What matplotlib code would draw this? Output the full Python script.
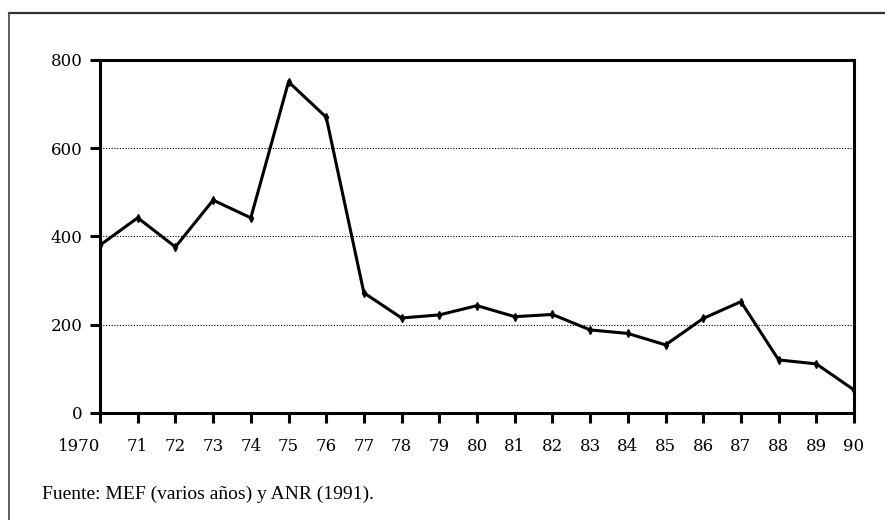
import matplotlib.pyplot as plt
from matplotlib.lines import Line2D
from matplotlib.transforms import ScaledTranslation

years = list(range(1970, 1991))
tick_labels = ['1970'] + [str(y % 100) for y in years[1:]]
values = [380, 442, 376, 482, 442, 750, 670, 272, 215, 222, 243,
          218, 223, 188, 180, 154, 214, 252, 120, 111, 52]

plt.rcParams['font.family'] = ['DejaVu Serif']

fig = plt.figure(figsize=(8.85, 5.2), dpi=100)
ax = fig.add_axes([0.113, 0.206, 0.852, 0.679])

# page frame: top and left edges only
fig.lines.append(Line2D([0.010, 1.0], [0.975, 0.975], transform=fig.transFigure,
                        color='#333333', linewidth=1.6))
fig.lines.append(Line2D([0.010, 0.010], [0.0, 0.975], transform=fig.transFigure,
                        color='#444444', linewidth=1.2))

ax.plot(years, values, color='black', linewidth=2.2, marker='d', markersize=4)

ax.set_xlim(1970, 1990)
ax.set_ylim(0, 800)
ax.set_xticks(years)
ax.set_xticklabels(tick_labels)
ax.set_yticks([0, 200, 400, 600, 800])
ax.yaxis.grid(True, linestyle=(0, (1, 1.5)), color='black', linewidth=0.8)
ax.set_axisbelow(True)

for s in ax.spines.values():
    s.set_linewidth(2.2)
ax.tick_params(axis='both', direction='out', width=2.2, length=7.5, labelsize=12)
ax.tick_params(axis='x', pad=10.5)
ax.tick_params(axis='y', pad=5)

# first label sits left of its tick
lbl = ax.get_xticklabels()[0]
lbl.set_transform(lbl.get_transform() + ScaledTranslation(-21 / 100, 0, fig.dpi_scale_trans))

fig.text(0.047, 0.040, 'Fuente: MEF (varios años) y ANR (1991).', fontsize=14,
         family='Liberation Serif')

fig.savefig('out.png', dpi=100)
